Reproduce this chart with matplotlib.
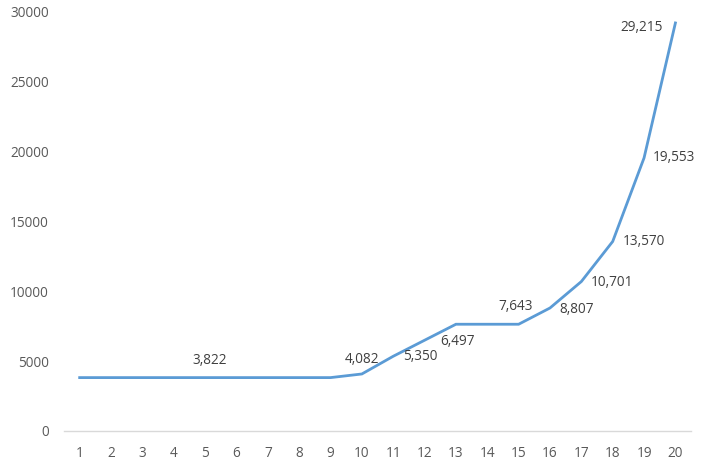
import matplotlib.pyplot as plt

plt.rcParams['font.family'] = ['Open Sans', 'DejaVu Sans']

# 数据
x = list(range(1, 21))
values = [3822, 3822, 3822, 3822, 3822, 3822, 3822, 3822, 3822, 4082,
          5350, 6497, 7643, 7643, 7643, 8807, 10701, 13570, 19553, 29215]

# 标注位置: (点序号, 偏移像素)
labels = [(5, (5, 17)), (10, (0, 14)), (11, (27, 0)), (12, (33, -1)),
          (15, (-3, 18)), (16, (27, -2)), (17, (31, -1)), (18, (31, 0)),
          (19, (30, 0)), (20, (-34, -5))]

fig = plt.figure(figsize=(7.11, 4.70), dpi=100)
ax = fig.add_axes([0.09, 0.083, 0.882, 0.8915])

ax.plot(x, values, color='#5B9BD5', linewidth=2.0, solid_joinstyle='miter')

for i, off in labels:
    v = values[i - 1]
    ax.annotate(f'{v:,}', (i, v), xytext=off, textcoords='offset pixels',
                ha='center', va='center', fontsize=9.8, color='#404040')

ax.set_xlim(0.5, 20.5)
ax.set_ylim(0, 30000)
ax.set_xticks(x)
ax.set_yticks(range(0, 30001, 5000))
ax.tick_params(length=0, labelsize=9.8, colors='#595959')
ax.tick_params(axis='x', pad=11)
ax.tick_params(axis='y', pad=11)

for s in ['top', 'right', 'left']:
    ax.spines[s].set_visible(False)
ax.spines['bottom'].set_color('#D9D9D9')
ax.spines['bottom'].set_linewidth(1)

plt.savefig('out.png')
